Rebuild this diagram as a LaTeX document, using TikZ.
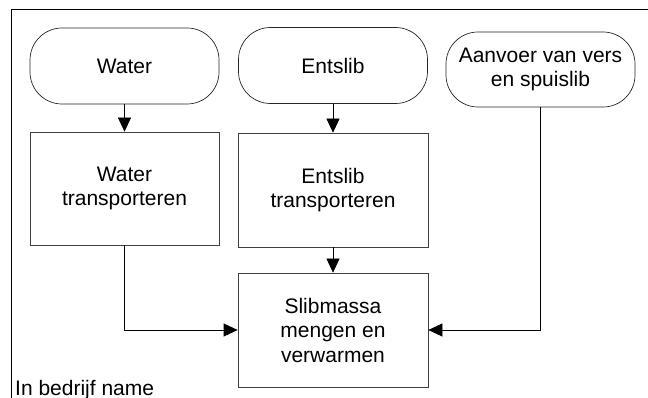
\documentclass[tikz,border=0pt]{standalone}
\usepackage{fontspec}
\setmainfont{Liberation Sans}
\usetikzlibrary{arrows.meta}
\begin{document}
\begin{tikzpicture}[x=1pt,y=-1pt,
  every node/.style={font=\fontsize{21}{24.5}\selectfont},
  term/.style={draw=black!85, line width=0.7pt, rounded corners=32pt, minimum width=189pt, minimum height=76pt, inner sep=0pt, align=center},
  procbox/.style={draw=black!75, line width=0.7pt, minimum width=190pt, minimum height=114pt, inner sep=0pt, align=center},
  arr/.style={draw=black, line width=0.7pt, -{Triangle[length=14pt,width=13pt]}},
  frame/.style={draw=black, line width=0.8pt}]
\useasboundingbox (0,0) rectangle (648,398);
\draw[frame] (11,398) -- (11,9) -- (648,9);
\node[term] (water) at (124.5,66) {Water};
\node[term] (entslib) at (333,65.5) {Entslib};
\node[term, minimum height=75pt] (aanvoer) at (540.5,69.5) {Aanvoer van vers\\en spuislib};
\node[procbox, minimum width=189pt, minimum height=113pt] (wt) at (124.5,188.5) {Water\\transporteren};
\node[procbox] (et) at (333,190) {Entslib\\transporteren};
\node[procbox] (sm) at (333,330) {Slibmassa\\mengen en\\verwarmen};
\node[anchor=base west, inner sep=0pt] (label) at (15,395) {In bedrijf name};
\draw[arr] (water) -- (wt);
\draw[arr] (entslib) -- (et);
\draw[arr] (et) -- (sm);
\draw[arr] (wt.south) |- (sm.west);
\draw[arr] (aanvoer.south) |- (sm.east);
\end{tikzpicture}
\end{document}
